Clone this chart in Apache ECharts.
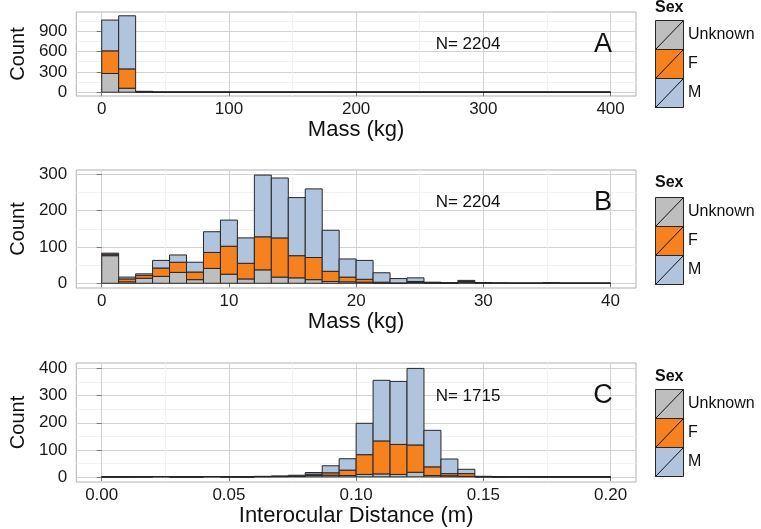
<!DOCTYPE html>
<html><head><meta charset="utf-8">
<script src="https://cdn.jsdelivr.net/npm/echarts@6/dist/echarts.min.js"></script>
<style>html,body{margin:0;padding:0;background:#fff}#c{width:761px;height:529px}</style>
</head><body><div id="c"></div>
<script>
const FONT = 'Liberation Sans';
const sexLevels = ['Unknown', 'F', 'M'];
const sexColors = ['#BEBEBE', '#F5821F', '#B0C4DE'];

// Panel A: Mass (kg), 30 bins 0-400
const massA_binWidth = 400 / 30;
const massA_unknown = [276,59,4,0,0,0,0,0,0,0,0,0,0,0,0,0,0,0,0,0,0,0,0,0,0,0,0,0,0,0];
const massA_female  = [334,285,3,0,0,0,0,0,0,0,0,0,0,0,0,0,0,0,0,0,0,0,0,0,0,0,0,0,0,0];
const massA_male    = [454,783,6,0,0,0,0,0,0,0,0,0,0,1,0,0,0,0,0,0,0,0,0,0,0,0,0,0,0,0];

// Panel B: Mass (kg), 30 bins 0-40
const massB_binWidth = 40 / 30;
const massB_unknown = [76,4,14,19,30,10,41,25,12,37,17,15,10,5,4,3,1,0,2,1,0,3,1,0,0,0,0,0,0,0];
const massB_female  = [4,8,8,23,28,21,44,77,43,91,108,61,61,28,13,8,2,1,3,1,1,2,1,0,0,0,0,0,0,0];
const massB_male    = [3,5,4,21,20,27,57,72,70,170,165,160,189,113,50,52,26,12,10,1,0,3,0,1,0,0,2,0,0,0];

// Panel C: Interocular distance (m), 30 bins 0-0.2
const iodC_binWidth = 0.2 / 30;
const iodC_unknown = [0,0,0,1,0,0,1,0,0,1,1,2,5,6,5,9,11,9,17,5,4,2,0,0,0,0,0,0,0,0];
const iodC_female  = [0,0,0,0,0,0,0,0,0,0,1,1,5,9,20,73,122,111,101,32,8,10,1,0,0,0,0,0,0,0];
const iodC_male    = [0,0,1,0,0,0,0,1,0,1,1,3,6,26,42,116,224,233,283,135,54,16,1,0,1,0,0,0,0,0];

// tick labels
const massA_ticks = [0,100,200,300,400];
const massA_minor = [50,150,250,350];
const countA_ticks = [0,300,600,900];
const countA_minor = [150,450,750,1050];
const massB_ticks = [0,10,20,30,40];
const massB_minor = [5,15,25,35];
const countB_ticks = [0,100,200,300];
const countB_minor = [50,150,250];
const iodC_ticks = [0,0.05,0.10,0.15,0.20];
const iodC_minor = [0.025,0.075,0.125,0.175];
const countC_ticks = [0,100,200,300,400];
const countC_minor = [50,150,250,350];

const panelTexts = [
  {letter: 'A', n: 'N= 2204'},
  {letter: 'B', n: 'N= 2204'},
  {letter: 'C', n: 'N= 1715'}
];

function buildBins(bw, u, f, m) {
  return u.map((_, i) => [i * bw, (i + 1) * bw, u[i], f[i], m[i]]);
}

function renderHist(params, api) {
  const x0 = api.value(0), x1 = api.value(1);
  const vals = [api.value(2), api.value(3), api.value(4)];
  const children = [];
  let base = 0;
  for (let k = 0; k < 3; k++) {
    const p0 = api.coord([x0, base]);
    const p1 = api.coord([x1, base + vals[k]]);
    children.push({
      type: 'rect',
      shape: {x: p0[0], y: p1[1], width: p1[0] - p0[0], height: p0[1] - p1[1]},
      style: {fill: sexColors[k], stroke: '#262626', lineWidth: 1}
    });
    base += vals[k];
  }
  return {type: 'group', children};
}

const grids = [
  {left: 64, top: 12, width: 572, height: 84},
  {left: 64, top: 170, width: 572, height: 118},
  {left: 64, top: 363, width: 572, height: 119}
];

function majorX(g, min, max, ticks, name, fmt) {
  return {
    type: 'value', gridIndex: g, position: 'bottom', min, max,
    name, nameLocation: 'middle', nameGap: 22,
    nameTextStyle: {fontFamily: FONT, fontSize: 22, color: '#111'},
    axisLine: {show: false},
    axisTick: {show: true, length: 4, customValues: ticks, lineStyle: {color: '#777'}},
    axisLabel: {customValues: ticks, fontFamily: FONT, fontSize: 17, color: '#1a1a1a', margin: 5, formatter: fmt},
    splitLine: {show: true, lineStyle: {color: '#d2d2d2', width: 1}}
  };
}
function majorY(g, min, max, ticks) {
  return {
    type: 'value', gridIndex: g, position: 'left', min, max,
    name: 'Count', nameLocation: 'middle', nameGap: 44,
    nameTextStyle: {fontFamily: FONT, fontSize: 20, color: '#111'},
    axisLine: {show: false},
    axisTick: {show: true, length: 5, customValues: ticks, lineStyle: {color: '#777'}},
    axisLabel: {customValues: ticks, fontFamily: FONT, fontSize: 17, color: '#1a1a1a', margin: 9},
    splitLine: {show: true, lineStyle: {color: '#d2d2d2', width: 1}}
  };
}
function minorAxis(g, pos, min, max, ticks) {
  return {
    type: 'value', gridIndex: g, position: pos, min, max,
    axisLine: {show: false},
    axisTick: {show: false, customValues: ticks},
    axisLabel: {show: false, customValues: ticks},
    splitLine: {show: true, lineStyle: {color: '#f2f2f2', width: 1}}
  };
}

const xAxis = [
  minorAxis(0, 'top', -20, 420, massA_minor),
  minorAxis(1, 'top', -2, 42, massB_minor),
  minorAxis(2, 'top', -0.01, 0.21, iodC_minor),
  majorX(0, -20, 420, massA_ticks, 'Mass (kg)'),
  majorX(1, -2, 42, massB_ticks, 'Mass (kg)'),
  majorX(2, -0.01, 0.21, iodC_ticks, 'Interocular Distance (m)', v => v.toFixed(2))
];
const yAxis = [
  minorAxis(0, 'right', -56, 1183, countA_minor),
  minorAxis(1, 'right', -13, 312, countB_minor),
  minorAxis(2, 'right', -19, 421, countC_minor),
  majorY(0, -56, 1183, countA_ticks),
  majorY(1, -13, 312, countB_ticks),
  majorY(2, -19, 421, countC_ticks)
];

const series = [
  buildBins(massA_binWidth, massA_unknown, massA_female, massA_male),
  buildBins(massB_binWidth, massB_unknown, massB_female, massB_male),
  buildBins(iodC_binWidth, iodC_unknown, iodC_female, iodC_male)
].map((data, i) => ({
  type: 'custom', xAxisIndex: 3 + i, yAxisIndex: 3 + i,
  renderItem: renderHist, data, encode: {x: [0, 1], y: [2]}, clip: false, z: 3
}));

const graphic = [];
const legendTops = [20, 197, 389];
const sexTitleY = [8, 183, 377];
legendTops.forEach((t, p) => {
  graphic.push({type: 'text', x: 655, y: sexTitleY[p],
    style: {text: 'Sex', font: 'bold 16px "Liberation Sans"', fill: '#111', verticalAlign: 'middle'}});
  for (let k = 0; k < 3; k++) {
    const y = t + k * 29;
    graphic.push({type: 'rect', shape: {x: 655.5, y: y + 0.5, width: 28, height: 29},
      style: {fill: sexColors[k], stroke: '#262626', lineWidth: 1}});
    graphic.push({type: 'line', shape: {x1: 655.5, y1: y + 29.5, x2: 683.5, y2: y + 0.5},
      style: {stroke: '#111', lineWidth: 1}});
    graphic.push({type: 'text', x: 688, y: y + 15,
      style: {text: sexLevels[k], font: '16px "Liberation Sans"', fill: '#111', verticalAlign: 'middle'}});
  }
});
const textY = [44.5, 202.5, 396];
panelTexts.forEach((pt, p) => {
  graphic.push({type: 'text', x: 468, y: textY[p],
    style: {text: pt.n, font: '17px "Liberation Sans"', fill: '#111', align: 'center', verticalAlign: 'middle'}, z: 10});
  graphic.push({type: 'text', x: 603, y: textY[p],
    style: {text: pt.letter, font: '27px "Liberation Sans"', fill: '#111', align: 'center', verticalAlign: 'middle'}, z: 10});
});

const chart = echarts.init(document.getElementById('c'), null, {renderer: 'canvas'});
chart.setOption({
  animation: false,
  backgroundColor: '#fff',
  grid: grids.map(g => Object.assign({show: true, borderColor: '#b0b0b0', borderWidth: 1, backgroundColor: '#fff'}, g)),
  xAxis, yAxis, series, graphic
});
</script></body></html>
